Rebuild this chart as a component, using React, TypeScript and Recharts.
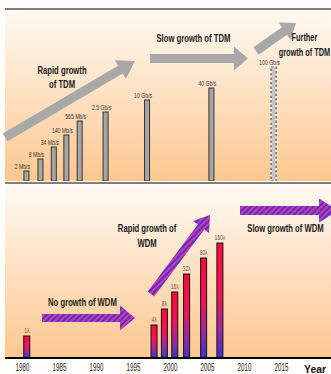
import React from 'react';
import {
  BarChart,
  Bar,
  XAxis,
  YAxis,
  CartesianGrid,
  ReferenceLine,
  ReferenceDot,
  LabelList,
} from 'recharts';

// ---------- data ----------
const tdmYears = [1980.5, 1982.4, 1984.2, 1985.9, 1987.7, 1991.2, 1996.8, 2005.5, 2013.9];
const tdmLabels = ['2 Mb/s', '8 Mb/s', '34 Mb/s', '140 Mb/s', '565 Mb/s', '2.5 Gb/s', '10 Gb/s', '40 Gb/s', '100 Gb/s'];
const tdmLevels = [10, 22, 34, 46, 60, 69, 81, 93, 114];
const tdmPlanned = [false, false, false, false, false, false, false, false, true];

const wdmYears = [1980.6, 1997.8, 1999.2, 2000.6, 2002.2, 2004.5, 2006.7];
const wdmLabels = ['1\u03bb', '4\u03bb', '8\u03bb', '16\u03bb', '32\u03bb', '80\u03bb', '160\u03bb'];
const wdmLevels = [22, 33, 49, 66, 84, 100, 115];

const yearTicks = [1980, 1985, 1990, 1995, 2000, 2005, 2010, 2015];

const X_DOMAIN: [number, number] = [1977.635, 2022.905];
const TOP_Y: [number, number] = [0, 172];
const BOT_Y: [number, number] = [0, 175];

type ArrowSpec = { from: [number, number]; to: [number, number]; shaft: number; head: number; headW: number };
type Note = { x: number; y: number; lines: string[]; lh: number; sx?: number };

const tdmArrows: ArrowSpec[] = [
  { from: [1977.64, 43.5], to: [1995.2, 120], shaft: 9, head: 17, headW: 22 },
  { from: [1997.23, 122.5], to: [2010.47, 122.5], shaft: 9, head: 14, headW: 24 },
  { from: [2011.55, 130], to: [2016.96, 158], shaft: 9, head: 14, headW: 21 },
];
const tdmNotes: Note[] = [
  { x: 1985.34, y: 104, lines: ['Rapid growth', 'of TDM'], lh: 14 },
  { x: 2003.1, y: 143, lines: ['Slow growth of TDM'], lh: 14 },
  { x: 2018.1, y: 136.5, lines: ['Further', 'growth of TDM'], lh: 15, sx: 0.67 },
];

const wdmArrows: ArrowSpec[] = [
  { from: [1982.64, 40], to: [1995.2, 40], shaft: 8, head: 15, headW: 25 },
  { from: [1997.36, 64], to: [2005.34, 143], shaft: 8, head: 15, headW: 20 },
  { from: [2009.39, 147.5], to: [2022.64, 147.5], shaft: 9, head: 19, headW: 24 },
];
const wdmNotes: Note[] = [
  { x: 1996.84, y: 122.5, lines: ['Rapid growth of', 'WDM'], lh: 15 },
  { x: 1988.1, y: 56, lines: ['No growth of WDM'], lh: 14 },
  { x: 2015.54, y: 130, lines: ['Slow growth of WDM'], lh: 14 },
];

const tdmData = tdmYears.map((year, i) => ({ year, level: tdmLevels[i], label: tdmLabels[i], planned: tdmPlanned[i] }));
const wdmData = wdmYears.map((year, i) => ({ year, level: wdmLevels[i], label: wdmLabels[i] }));

// ---------- styles ----------
const SANS = "'Liberation Sans', Arial, sans-serif";

type CTProps = {
  x: number;
  y: number;
  size: number;
  sx: number;
  weight?: string;
  fill?: string;
  dy?: string;
  children: React.ReactNode;
};

// condensed text (emulates Arial Narrow)
const CText = ({ x, y, size, sx, weight = 'normal', fill = '#222', dy = '0', children }: CTProps) => (
  <g transform={`translate(${x},${y}) scale(${sx},1)`}>
    <text x={0} y={0} dy={dy} textAnchor="middle" fontFamily={SANS} fontWeight={weight} fontSize={size} fill={fill}>
      {children}
    </text>
  </g>
);

const arrowPoints = (x1: number, y1: number, x2: number, y2: number, s: ArrowSpec) => {
  const dx = x2 - x1;
  const dy = y2 - y1;
  const L = Math.sqrt(dx * dx + dy * dy) || 1;
  const ux = dx / L;
  const uy = dy / L;
  const nx = -uy;
  const ny = ux;
  const nb = L - s.head;
  const bx = x1 + ux * nb;
  const by = y1 + uy * nb;
  const w = s.shaft / 2;
  const hw = s.headW / 2;
  const pts = [
    [x1 + nx * w, y1 + ny * w],
    [bx + nx * w, by + ny * w],
    [bx + nx * hw, by + ny * hw],
    [x2, y2],
    [bx - nx * hw, by - ny * hw],
    [bx - nx * w, by - ny * w],
    [x1 - nx * w, y1 - ny * w],
  ];
  return pts.map((p) => `${p[0].toFixed(2)},${p[1].toFixed(2)}`).join(' ');
};

const makeArrowShape = (s: ArrowSpec, fill: string) => (p: any) =>
  <polygon points={arrowPoints(p.x1, p.y1, p.x2, p.y2, s)} fill={fill} stroke="none" />;

const makeNoteShape = (n: Note) => (p: any) => {
  const total = (n.lines.length - 1) * n.lh;
  return (
    <g>
      {n.lines.map((l, i) => (
        <CText key={i} x={p.cx} y={p.cy - total / 2 + i * n.lh} dy="0.36em" size={11} sx={n.sx ?? 0.7} weight="bold" fill="#1a1a1a">
          {l}
        </CText>
      ))}
    </g>
  );
};

const TdmBar = (p: any) => {
  const { x, y, width, height, payload } = p;
  if (payload && payload.planned) {
    return (
      <g>
        <rect x={x} y={y} width={width} height={height} fill="#c6c6c6" stroke="#ffffff" strokeWidth={1.2} />
        <rect x={x} y={y} width={width} height={height} fill="none" stroke="#4a4a4a" strokeWidth={1.2} strokeDasharray="2.5 2" />
      </g>
    );
  }
  return <rect x={x} y={y} width={width} height={height} fill="#a6a6a6" stroke="#333333" strokeWidth={1} />;
};

const WdmBar = (p: any) => {
  const { x, y, width, height } = p;
  return <rect x={x} y={y} width={width} height={height} fill="url(#wdmBarGrad)" stroke="#111111" strokeWidth={1} />;
};

const tdmLabel = (p: any) => {
  const { x, y, width, value } = p;
  return (
    <CText x={x + width / 2 - 4} y={y - 2.5} size={7} sx={0.73} fill="#333">
      {value}
    </CText>
  );
};

const wdmLabel = (p: any) => {
  const { x, y, width, value } = p;
  return (
    <CText x={x + width / 2} y={y - 3} size={7} sx={0.7} fill="#555">
      {value}
    </CText>
  );
};

const YearTick = (p: any) => {
  const { x, y, payload } = p;
  return (
    <CText x={x} y={y} dy="0.71em" size={10} sx={0.62} fill="#222">
      {payload.value}
    </CText>
  );
};

const yearShape = (p: any) => (
  <CText x={p.cx} y={p.cy} dy="0.36em" size={11.5} sx={0.9} weight="bold" fill="#111">
    Year
  </CText>
);

export default function App() {
  return (
    <div
      style={{
        position: 'absolute',
        left: 0,
        top: 0,
        width: 331,
        height: 374,
        overflow: 'hidden',
        background: '#fffdf9',
      }}
    >
      <div style={{ position: 'absolute', left: 0, top: 0 }}>
        <BarChart width={340} height={182} data={tdmData} margin={{ top: 9, right: 0, bottom: 1, left: 5 }} barSize={5}>
          <defs>
            <linearGradient id="tdmBg" x1="0" y1="0" x2="0" y2="1">
              <stop offset="0%" stopColor="#fffaf4" />
              <stop offset="100%" stopColor="#fdc78f" />
            </linearGradient>
          </defs>
          <CartesianGrid horizontal={false} vertical={false} fill="url(#tdmBg)" />
          <XAxis
            type="number"
            dataKey="year"
            domain={X_DOMAIN}
            allowDataOverflow
            height={0}
            tick={false}
            tickLine={false}
            axisLine={{ stroke: '#000', strokeWidth: 2 }}
          />
          <YAxis type="number" domain={TOP_Y} allowDataOverflow width={0} tick={false} tickLine={false} axisLine={{ stroke: '#000', strokeWidth: 1 }} />
          <ReferenceLine y={TOP_Y[1]} stroke="#000" strokeWidth={1} ifOverflow="visible" />
          {tdmArrows.map((a, i) => (
            <ReferenceLine
              key={'ta' + i}
              segment={[{ x: a.from[0], y: a.from[1] }, { x: a.to[0], y: a.to[1] }]}
              ifOverflow="visible"
              shape={makeArrowShape(a, '#a8a8a8')}
            />
          ))}
          <Bar dataKey="level" isAnimationActive={false} shape={TdmBar}>
            <LabelList dataKey="label" content={tdmLabel} />
          </Bar>
          {tdmNotes.map((n, i) => (
            <ReferenceDot key={'tn' + i} x={n.x} y={n.y} r={0} ifOverflow="visible" shape={makeNoteShape(n)} />
          ))}
        </BarChart>
      </div>
      <div style={{ position: 'absolute', left: 0, top: 182 }}>
        <BarChart width={340} height={192} data={wdmData} margin={{ top: 1, right: 0, bottom: 0, left: 5 }} barSize={6}>
          <defs>
            <linearGradient id="wdmBg" x1="0" y1="0" x2="0" y2="1">
              <stop offset="0%" stopColor="#fffaf4" />
              <stop offset="100%" stopColor="#fdc78f" />
            </linearGradient>
            <linearGradient id="wdmBarGrad" x1="0" y1="0" x2="0" y2="1">
              <stop offset="0%" stopColor="#ff0a3a" />
              <stop offset="45%" stopColor="#f0145a" />
              <stop offset="75%" stopColor="#9a2aa0" />
              <stop offset="100%" stopColor="#3436d0" />
            </linearGradient>
            <pattern id="wdmStripes" patternUnits="userSpaceOnUse" width="4" height="4" patternTransform="rotate(45)">
              <rect width="4" height="4" fill="#3c3cd2" />
              <rect width="2" height="4" fill="#e8309a" />
            </pattern>
          </defs>
          <CartesianGrid horizontal={false} vertical={false} fill="url(#wdmBg)" />
          <XAxis
            type="number"
            dataKey="year"
            domain={X_DOMAIN}
            allowDataOverflow
            ticks={yearTicks}
            interval={0}
            height={16}
            tickSize={0}
            tickMargin={6}
            tickLine={false}
            tick={YearTick}
            axisLine={{ stroke: '#000', strokeWidth: 2 }}
          />
          <YAxis type="number" domain={BOT_Y} allowDataOverflow width={0} tick={false} tickLine={false} axisLine={{ stroke: '#000', strokeWidth: 1 }} />
          <ReferenceLine y={BOT_Y[1]} stroke="#000" strokeWidth={1} ifOverflow="visible" />
          {wdmArrows.map((a, i) => (
            <ReferenceLine
              key={'wa' + i}
              segment={[{ x: a.from[0], y: a.from[1] }, { x: a.to[0], y: a.to[1] }]}
              ifOverflow="visible"
              shape={makeArrowShape(a, 'url(#wdmStripes)')}
            />
          ))}
          <Bar dataKey="level" isAnimationActive={false} shape={WdmBar}>
            <LabelList dataKey="label" content={wdmLabel} />
          </Bar>
          {wdmNotes.map((n, i) => (
            <ReferenceDot key={'wn' + i} x={n.x} y={n.y} r={0} ifOverflow="visible" shape={makeNoteShape(n)} />
          ))}
          <ReferenceDot x={2019.53} y={-11} r={0} ifOverflow="visible" shape={yearShape} />
        </BarChart>
      </div>
    </div>
  );
}
